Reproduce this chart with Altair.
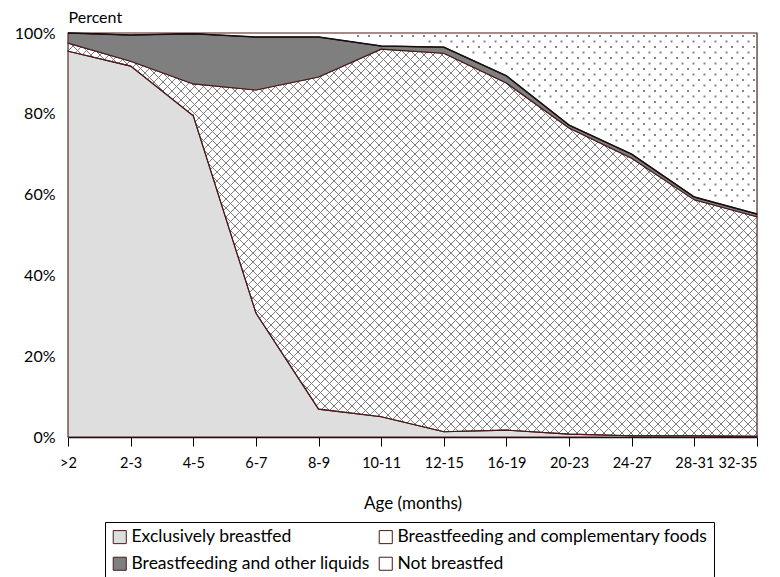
import json
import altair as alt
import pandas as pd

# ---- data ----
ages = [">2", "2-3", "4-5", "6-7", "8-9", "10-11", "12-15", "16-19", "20-23", "24-27", "28-31", "32-35"]
exclusive = [95.5, 91.8, 79.5, 30.7, 6.9, 5.0, 1.3, 1.7, 0.7, 0.3, 0.3, 0.2]
complementary = [2.0, 1.2, 7.9, 55.2, 82.2, 91.0, 93.7, 85.9, 75.8, 68.7, 58.4, 54.3]
other_liquids = [2.5, 6.5, 12.4, 13.1, 9.9, 0.8, 1.5, 1.8, 0.7, 1.0, 0.7, 0.7]
not_breastfed = [0.0, 0.5, 0.2, 1.0, 1.0, 3.2, 3.5, 10.6, 22.8, 30.0, 40.6, 44.8]

series_names = ["Exclusively breastfed", "Breastfeeding and complementary foods",
                "Breastfeeding and other liquids", "Not breastfed"]
series_fill = ["#dedede", "rgba(255,255,255,0)", "#7f7f7f", "#ffffff"]

rows = []
for k, (name, vals) in enumerate(zip(series_names, [exclusive, complementary, other_liquids, not_breastfed])):
    for i, v in enumerate(vals):
        rows.append({"idx": i, "series": name, "ord": k, "value": v})
df = pd.DataFrame(rows)

top_breastfed = [round(a + b + c, 2) for a, b, c in zip(exclusive, complementary, other_liquids)]
top_df = pd.DataFrame({"idx": list(range(len(ages))), "top": top_breastfed})

FONT = "Lato"
W, H = 689, 404
NX = len(ages) - 1
MAROON = "#4a1a1a"

xscale = alt.Scale(domain=[0, NX], nice=False, zero=False)
yscale = alt.Scale(domain=[0, 100], nice=False)

label_expr = json.dumps(ages) + "[round(datum.value)]"

x_axis = alt.Axis(values=list(range(len(ages))), labelExpr=label_expr, title="Age (months)",
                  grid=False, tickSize=9, tickColor="black", domainColor="black", domainWidth=1.5,
                  labelPadding=10, labelFontSize=14.5, labelFont=FONT, labelColor="black",
                  labelFlush=False, labelOverlap=False,
                  labelAlign={"condition": {"test": f"datum.value == {NX}", "value": "right"},
                              "value": "center"},
                  titleFont=FONT, titleFontSize=17, titleFontWeight="normal", titleColor="black",
                  titleBaseline="middle", titleY=66)
y_axis = alt.Axis(values=[0, 20, 40, 60, 80, 100], labelExpr="datum.value + '%'", title="Percent",
                  grid=False, ticks=False, domain=False, labelPadding=13, labelFontSize=16,
                  labelFont=FONT, labelColor="black", titleFont=FONT, titleFontSize=16,
                  titleFontWeight="normal", titleColor="black", titleAngle=0, titleAlign="left",
                  titleBaseline="alphabetic", titleX=0, titleY=-11)

# ---- cross-hatch texture (drawn beneath; visible only where the area is transparent) ----
S = 9
NL = int((W + H) / S) + 2
HATCH = "#7c7c7c"
hatch_a = alt.Chart(alt.sequence(0, NL, as_="n")).transform_calculate(
    x=f"(datum.n*{S} - {H}) / {W} * {NX}", x2=f"(datum.n*{S}) / {W} * {NX}", y="100", y2="0"
).mark_rule(color=HATCH, strokeWidth=1, clip=True).encode(
    x=alt.X("x:Q", scale=xscale, axis=x_axis), x2="x2:Q",
    y=alt.Y("y:Q", scale=yscale, axis=y_axis), y2="y2:Q")
hatch_b = alt.Chart(alt.sequence(0, NL, as_="n")).transform_calculate(
    x=f"(datum.n*{S}) / {W} * {NX}", x2=f"(datum.n*{S} - {H}) / {W} * {NX}", y="100", y2="0"
).mark_rule(color=HATCH, strokeWidth=1, clip=True).encode(
    x=alt.X("x:Q", scale=xscale), x2="x2:Q", y=alt.Y("y:Q", scale=yscale), y2="y2:Q")

# ---- stacked areas ----
areas = alt.Chart(df).mark_area(stroke=MAROON, strokeWidth=1.1, fillOpacity=1, interpolate="linear").encode(
    x=alt.X("idx:Q", scale=xscale),
    y=alt.Y("value:Q", stack="zero", scale=yscale),
    color=alt.Color("series:N", scale=alt.Scale(domain=series_names, range=series_fill),
                    legend=alt.Legend(orient="none", legendX=37, legendY=489, columns=2, title=None,
                                      direction="horizontal",
                                      symbolType="square", symbolSize=170, symbolStrokeColor=MAROON,
                                      symbolStrokeWidth=1, symbolOpacity=1, labelFont=FONT,
                                      labelFontSize=17.5, labelColor="black", labelOffset=3,
                                      strokeColor="black", padding=6, rowPadding=8,
                                      columnPadding=7, labelLimit=400)),
    order=alt.Order("ord:Q", sort="ascending"),
)

# ---- dotted texture for "Not breastfed" ----
DX, DY = 11, 5.5
cols, nrows = int(W / DX) + 1, int(H / DY) + 1
top_arr = json.dumps(top_breastfed)
dots = alt.Chart(alt.sequence(0, cols * nrows, as_="n")).transform_calculate(
    col=f"datum.n % {cols}", row=f"floor(datum.n / {cols})"
).transform_calculate(
    x=f"(datum.col*{DX} + (datum.row % 2)*{DX/2} + 4) / {W} * {NX}",
    y=f"100 - (datum.row*{DY} + 3) / {H} * 100"
).transform_calculate(
    i0=f"min(floor(datum.x), {NX - 1})"
).transform_calculate(
    topv=f"{top_arr}[datum.i0] + ({top_arr}[datum.i0 + 1] - {top_arr}[datum.i0]) * (datum.x - datum.i0)"
).transform_filter("datum.y > datum.topv + 1.3 && datum.x < " + str(NX) + " && datum.y < 100").mark_square(
    size=4, color="#858585", opacity=1
).encode(x=alt.X("x:Q", scale=xscale), y=alt.Y("y:Q", scale=yscale))

# ---- dark line at the top of the breastfed share ----
topline = alt.Chart(top_df).mark_line(color="#111111", strokeWidth=1.4).encode(
    x=alt.X("idx:Q", scale=xscale), y=alt.Y("top:Q", scale=yscale))

chart = alt.layer(hatch_a, hatch_b, areas, dots, topline).properties(
    width=W, height=H,
    autosize=alt.AutoSizeParams(type="none"),
    padding={"left": 60, "top": 25, "right": 15, "bottom": 140},
).configure_view(stroke="black", strokeWidth=1.5).configure(font=FONT)

chart.save("out.html", embed_options={"renderer": "svg", "actions": False})
